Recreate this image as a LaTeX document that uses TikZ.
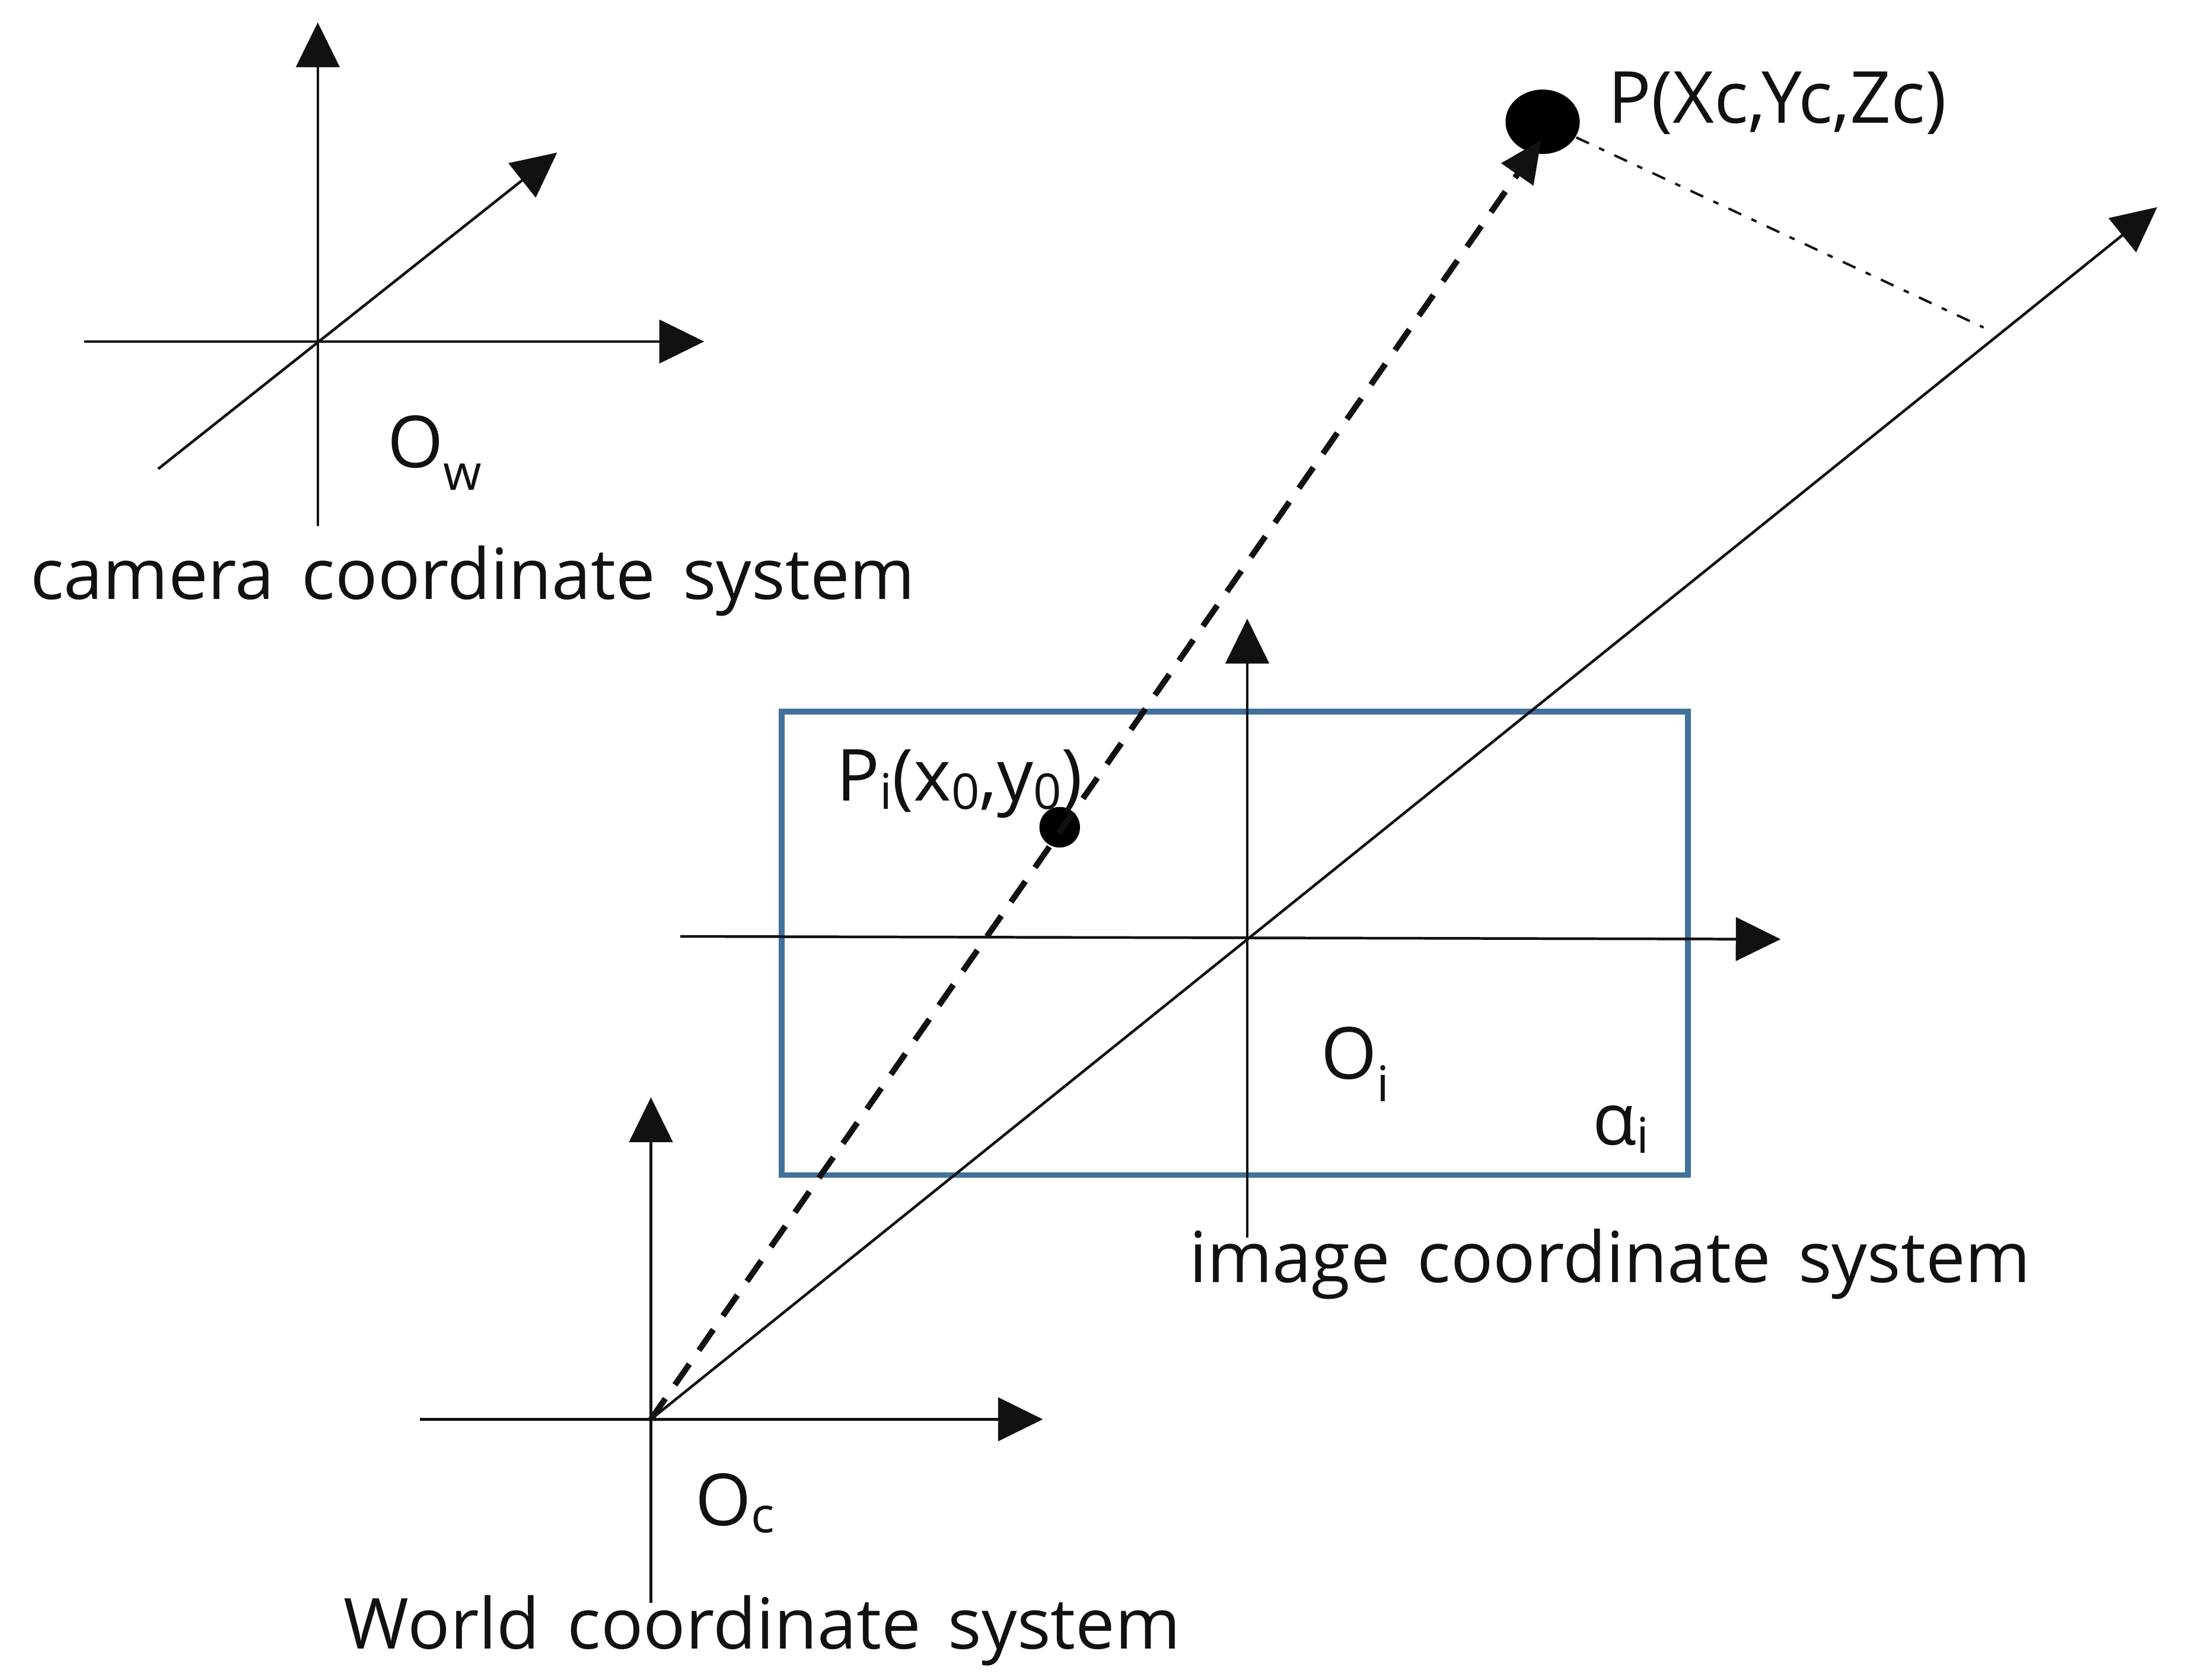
\documentclass[tikz,border=0pt]{standalone}
\usepackage{fontspec}
\setmainfont{Open Sans}
\newfontfamily\capfont[WordSpace=1.5]{Open Sans}
\usetikzlibrary{arrows.meta,shapes.geometric}
\definecolor{framecol}{HTML}{41719C}
\definecolor{inkcol}{HTML}{111111}
\newcommand{\subs}[2][0.6mm]{\raisebox{-#1}{\fontsize{10}{10}\selectfont #2}}
\tikzset{
  axis/.style={draw=inkcol,line width=0.19mm,-{Triangle[length=3.2mm,width=3.1mm]}},
  ray/.style={draw=inkcol,line width=0.42mm,dash pattern=on 1.8mm off 1.2mm,-{Triangle[length=3mm,width=2.7mm]}},
  dashdot/.style={draw=inkcol,line width=0.17mm,dash pattern=on 1mm off 0.8mm on 0.4mm off 0.8mm},
  lab/.style={font=\fontsize{14.6}{16}\selectfont,text=inkcol,inner sep=0pt,anchor=base west},
  captext/.style={font=\capfont\fontsize{14.3}{16}\selectfont,text=inkcol,inner sep=0pt,anchor=base west},
  dot/.style={circle,fill=black,inner sep=0pt},
  bigdot/.style={ellipse,fill=black,inner sep=0pt,minimum width=0.53cm,minimum height=0.46cm}
}
\begin{document}
\begin{tikzpicture}[x=0.01cm,y=-0.01cm]
\useasboundingbox[fill=white] (0,0) rectangle (1568,1200);
% camera system
\coordinate (cT) at (227,16); \coordinate (cB) at (227,376);
\coordinate (cL) at (60,244); \coordinate (cR) at (503,244);
\coordinate (cA) at (113,335); \coordinate (cE) at (398,109);
\draw[axis] (cB) -- (cT);
\draw[axis] (cL) -- (cR);
\draw[axis] (cA) -- (cE);
\node[lab] (ow) at (276,334) {O\subs[1.6mm]{w}};
\node[captext] (ccs) at (21,428) {camera coordinate system};
% world system
\coordinate (wT) at (465,784); \coordinate (wB) at (465,1145);
\coordinate (wL) at (300,1014); \coordinate (wR) at (745,1014);
\draw[axis] (wB) -- (wT);
\draw[axis] (wL) -- (wR);
\node[lab] (oc) at (496,1090) {O\subs[0.5mm]{c}};
\node[captext] (wcs) at (245,1178) {World coordinate system};
% image plane
\node[draw=framecol,line width=0.4mm,minimum width=6.47cm,minimum height=3.31cm,inner sep=0pt] (plane) at (882,674) {};
\coordinate (iT) at (891,442); \coordinate (iB) at (891,884);
\coordinate (iL) at (486,669); \coordinate (iR) at (1272,671);
\draw[axis] (iB) -- (iT);
\draw[axis] (iL) -- (iR);
\node[lab] (oi) at (943,771) {O\subs[1.6mm]{i}};
\node[lab] (ai) at (1137,818) {α\subs{i}};
\node[captext] (ics) at (849,916) {image coordinate system};
% rays
\coordinate (orig) at (465,1014);
\coordinate (zEnd) at (1541,148);
\coordinate (foot) at (1417,234);
\draw[axis] (orig) -- (zEnd);
\node[bigdot] (P) at (1102,87) {};
\node[dot,minimum size=0.29cm] (Pi) at (757,591) {};
\draw[ray] (orig) -- (1101,100);
\draw[dashdot] (P) -- (foot);
\node[lab] (pl) at (1148,88) {P(Xc,Yc,Zc)};
\node[lab] (pil) at (597,572) {P\subs{i}(x\subs{0},y\subs{0})};
\end{tikzpicture}
\end{document}
